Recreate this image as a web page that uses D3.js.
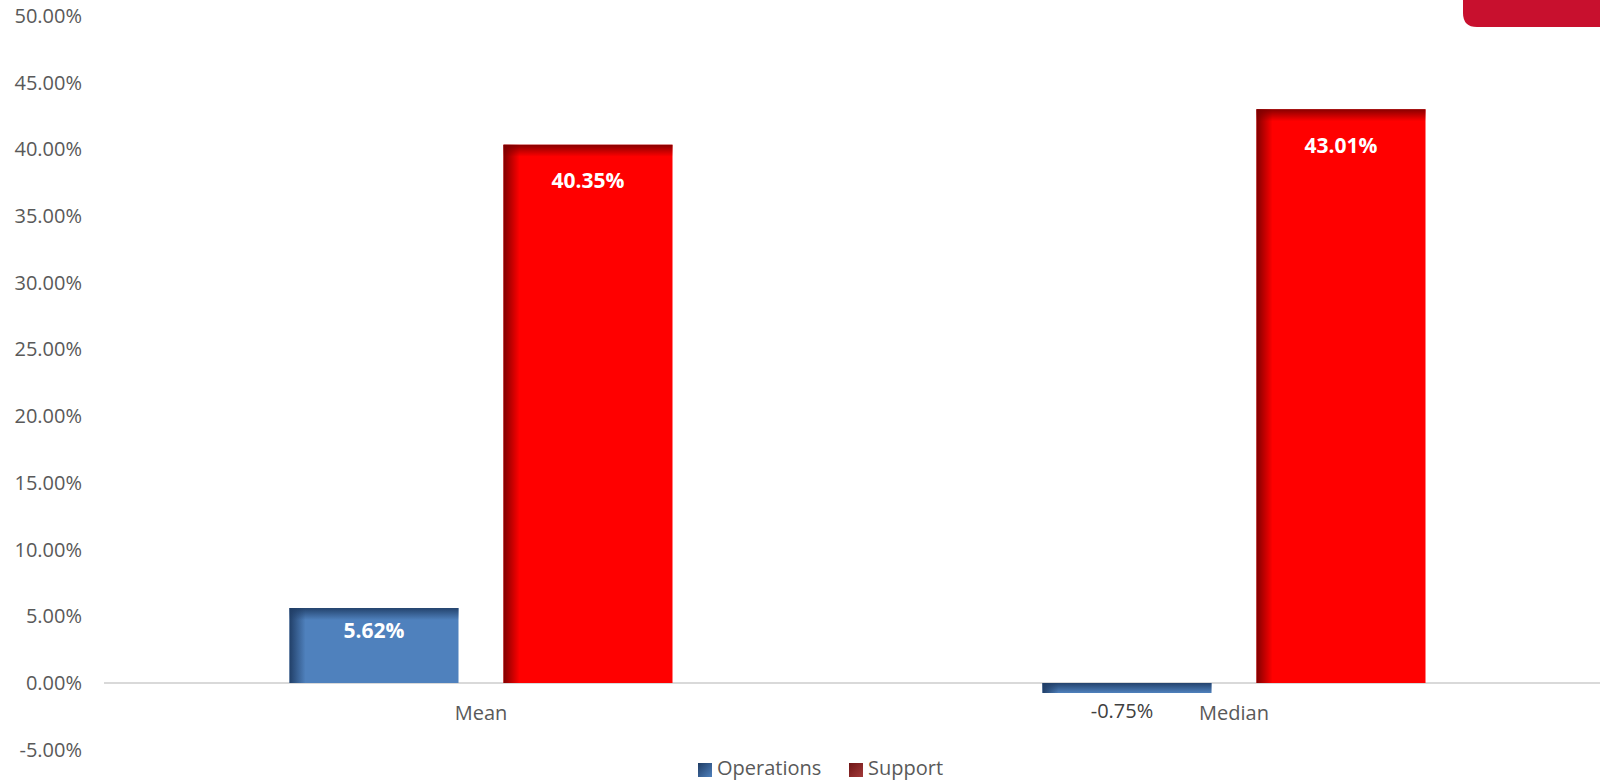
<!DOCTYPE html>
<html>
<head>
<meta charset="utf-8">
<script src="https://cdn.jsdelivr.net/npm/d3@7"></script>
<style>
  body { margin: 0; background: #fff; }
  svg { display: block; font-family: "Open Sans", sans-serif; }
</style>
</head>
<body>
<svg id="chart" width="1600" height="782"></svg>
<script>
// chart data
var categories = ["Mean", "Median"];
var series = ["Operations", "Support"];
var operations = [5.62, -0.75];
var support = [40.35, 43.01];
var yTicks = [-5, 0, 5, 10, 15, 20, 25, 30, 35, 40, 45, 50];

var colors = {"Operations": "#4F81BD", "Support": "#FF0000"};
var shades = {"Operations": "#1F3C64", "Support": "#7A0000"};
var legend_colors = {"Operations": ["#1F3C64", "#4F81BD"], "Support": ["#6E1515", "#A33A3A"]};

var svg = d3.select("#chart");
var defs = svg.append("defs");

var y = d3.scaleLinear().domain([-5, 50]).range([749.7, 16]);
var x0 = d3.scaleBand().domain(categories).range([104.5, 1610.5]).padding(0);
var groupW = 383;
var x1 = d3.scaleBand().domain(series).range([0, groupW]).paddingInner(45 / 214);

// gradients for the bevel look
series.forEach(function(s) {
  var gl = defs.append("linearGradient").attr("id", "left-" + s)
    .attr("x1", 0).attr("x2", 1).attr("y1", 0).attr("y2", 0);
  gl.append("stop").attr("offset", 0).attr("stop-color", shades[s]).attr("stop-opacity", 0.95);
  gl.append("stop").attr("offset", 1).attr("stop-color", shades[s]).attr("stop-opacity", 0);

  var gt = defs.append("linearGradient").attr("id", "top-" + s)
    .attr("x1", 0).attr("x2", 0).attr("y1", 0).attr("y2", 1);
  gt.append("stop").attr("offset", 0).attr("stop-color", shades[s]).attr("stop-opacity", 0.9);
  gt.append("stop").attr("offset", 1).attr("stop-color", shades[s]).attr("stop-opacity", 0);

  var lg = defs.append("linearGradient").attr("id", "leg-" + s)
    .attr("x1", 0).attr("x2", 1).attr("y1", 0).attr("y2", 1);
  lg.append("stop").attr("offset", 0).attr("stop-color", legend_colors[s][0]);
  lg.append("stop").attr("offset", 1).attr("stop-color", legend_colors[s][1]);
});

// y axis labels
var yAxis = d3.axisLeft(y).tickValues(yTicks)
  .tickFormat(function(d) { return d.toFixed(2) + "%"; })
  .tickSize(0).tickPadding(0);
var ya = svg.append("g").attr("transform", "translate(82,0)").call(yAxis);
ya.select(".domain").remove();
ya.selectAll("text").attr("font-size", "20px").attr("fill", "#595959")
  .attr("font-family", "'Open Sans', sans-serif");

// zero line
svg.append("line")
  .attr("x1", 104).attr("x2", 1600)
  .attr("y1", y(0)).attr("y2", y(0))
  .attr("stroke", "#D9D9D9").attr("stroke-width", 2);

var rows = [];
categories.forEach(function(c, i) {
  rows.push({cat: c, s: "Operations", v: operations[i]});
  rows.push({cat: c, s: "Support", v: support[i]});
});

var offset = (x0.bandwidth() - groupW) / 2;

var bars = svg.append("g").selectAll("g.bar").data(rows).enter()
  .append("g").attr("class", "bar")
  .attr("transform", function(d) {
    return "translate(" + (x0(d.cat) + offset + x1(d.s)) + ",0)";
  });

bars.append("rect")
  .attr("x", 0)
  .attr("y", function(d) { return y(Math.max(0, d.v)); })
  .attr("width", x1.bandwidth())
  .attr("height", function(d) { return Math.abs(y(d.v) - y(0)); })
  .attr("fill", function(d) { return colors[d.s]; });

// left shade
bars.append("rect")
  .attr("x", 0)
  .attr("y", function(d) { return y(Math.max(0, d.v)); })
  .attr("width", 16)
  .attr("height", function(d) { return Math.abs(y(d.v) - y(0)); })
  .attr("fill", function(d) { return "url(#left-" + d.s + ")"; });

// top shade
bars.append("rect")
  .attr("x", 0)
  .attr("y", function(d) { return y(Math.max(0, d.v)); })
  .attr("width", x1.bandwidth())
  .attr("height", function(d) { return Math.min(12, Math.abs(y(d.v) - y(0))); })
  .attr("fill", function(d) { return "url(#top-" + d.s + ")"; });

// data labels
bars.append("text")
  .attr("x", x1.bandwidth() / 2)
  .attr("y", function(d) {
    if (d.v < 0) return y(d.v) + 20;
    return d.s === "Support" ? y(d.v) + 38 : y(d.v) + 24;
  })
  .attr("text-anchor", "middle")
  .attr("dominant-baseline", "middle")
  .attr("font-size", function(d) { return d.v >= 0 ? "21px" : "20px"; })
  .attr("font-weight", function(d) { return d.v >= 0 ? "bold" : "normal"; })
  .attr("fill", function(d) { return d.v >= 0 ? "#FFFFFF" : "#404040"; })
  .attr("dx", function(d) { return d.v >= 0 ? 0 : -5; })
  .text(function(d) { return d.v.toFixed(2) + "%"; });

// category labels
svg.append("g").selectAll("text").data(categories).enter()
  .append("text")
  .attr("x", function(d) { return x0(d) + x0.bandwidth() / 2; })
  .attr("y", 715)
  .attr("text-anchor", "middle")
  .attr("dominant-baseline", "middle")
  .attr("font-size", "20px")
  .attr("fill", "#595959")
  .text(function(d) { return d; });

// legend
var legX = [698, 849];
var leg = svg.append("g").selectAll("g").data(series).enter()
  .append("g").attr("transform", function(d, i) { return "translate(" + legX[i] + ",763)"; });
leg.append("rect").attr("width", 14).attr("height", 14)
  .attr("fill", function(d) { return "url(#leg-" + d + ")"; });
leg.append("text").attr("x", 19).attr("y", 7)
  .attr("dominant-baseline", "middle")
  .attr("font-size", "20px").attr("fill", "#595959")
  .text(function(d) { return d; });

// corner badge
svg.append("path")
  .attr("d", "M1463,-5 L1600,-5 L1600,27 L1477,27 Q1463,27 1463,13 Z")
  .attr("fill", "#C8102E");
</script>
</body>
</html>
